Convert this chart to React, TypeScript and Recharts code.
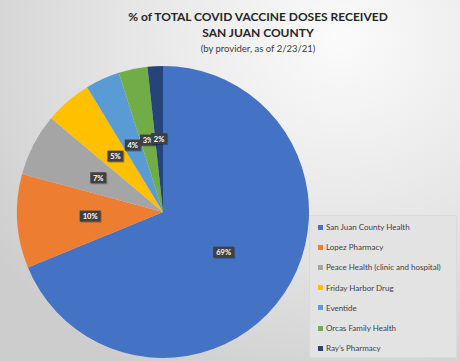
import { PieChart, Pie, Cell, Legend } from "recharts";

const providers = [
  "San Juan County Health",
  "Lopez Pharmacy",
  "Peace Health (clinic and hospital)",
  "Friday Harbor Drug",
  "Eventide",
  "Orcas Family Health",
  "Ray’s Pharmacy",
];
const shares = [68.8, 10.4, 6.9, 5.2, 3.8, 3.2, 1.7];
const colors = ["#4472c4", "#ed7d31", "#a5a5a5", "#ffc000", "#5b9bd5", "#70ad47", "#264478"];

const data = providers.map((name, i) => ({ name, value: shares[i] }));

const RADIAN = Math.PI / 180;

function renderLabel(props: any) {
  const { cx, cy, midAngle, outerRadius, percent } = props;
  const r = outerRadius * 0.5;
  const x = cx + r * Math.cos(-midAngle * RADIAN);
  const y = cy + r * Math.sin(-midAngle * RADIAN);
  const txt = `${Math.round(percent * 100)}%`;
  const w = txt.length * 5 + 6;
  return (
    <g>
      <rect x={x - w / 2 + 1} y={y - 5} width={w} height={11} fill="#000" opacity={0.25} />
      <rect x={x - w / 2} y={y - 6} width={w} height={11} fill="#404040" />
      <text x={x} y={y} fill="#fff" fontSize={7.5} fontWeight="bold" textAnchor="middle" dominantBaseline="central">
        {txt}
      </text>
    </g>
  );
}

// legend keeps the data order (recharts would sort it by name)
function LegendBox() {
  return (
    <div
      style={{
        width: 148,
        height: 143,
        background: "#e3e3e3",
        border: "1px solid #dadada",
        boxSizing: "border-box",
        paddingTop: 1,
      }}
    >
      {providers.map((name, i) => (
        <div
          key={name}
          style={{ display: "flex", alignItems: "center", height: 20.2, paddingLeft: 8, fontSize: 8, color: "#404040" }}
        >
          <span style={{ width: 5, height: 5, background: colors[i], marginRight: 3, display: "inline-block" }} />
          {name}
        </div>
      ))}
    </div>
  );
}

export default function App() {
  return (
    <div
      style={{
        position: "absolute",
        left: 0,
        top: 0,
        width: 460,
        height: 361,
        background: "radial-gradient(ellipse 420px 380px at 340px 40px, #fbfbfb 0%, #e6e6e6 50%, #cdcdcd 100%)",
        fontFamily: "Lato, 'Open Sans', sans-serif",
        overflow: "hidden",
      }}
    >
      <div style={{ position: "absolute", left: 0, width: 516, top: 9, textAlign: "center", color: "#262626" }}>
        <div style={{ fontSize: 12, fontWeight: "bold", lineHeight: "16px" }}>% of TOTAL COVID VACCINE DOSES RECEIVED</div>
        <div style={{ fontSize: 12, fontWeight: "bold", lineHeight: "16px" }}>SAN JUAN COUNTY</div>
        <div style={{ fontSize: 9.5, lineHeight: "15px", color: "#404040" }}>(by provider, as of 2/23/21)</div>
      </div>
      <PieChart width={460} height={361} style={{ position: "absolute", left: 0, top: 0 }}>
        <Pie
          data={data}
          dataKey="value"
          nameKey="name"
          cx={158}
          cy={207}
          outerRadius={146}
          startAngle={90}
          endAngle={-270}
          stroke="none"
          label={renderLabel}
          labelLine={false}
          isAnimationActive={false}
        >
          {data.map((d, i) => (
            <Cell key={d.name} fill={colors[i]} />
          ))}
        </Pie>
        <Legend
          layout="vertical"
          content={<LegendBox />}
          wrapperStyle={{ position: "absolute", left: 309, top: 215, width: 148, height: 143 }}
        />
      </PieChart>
    </div>
  );
}
